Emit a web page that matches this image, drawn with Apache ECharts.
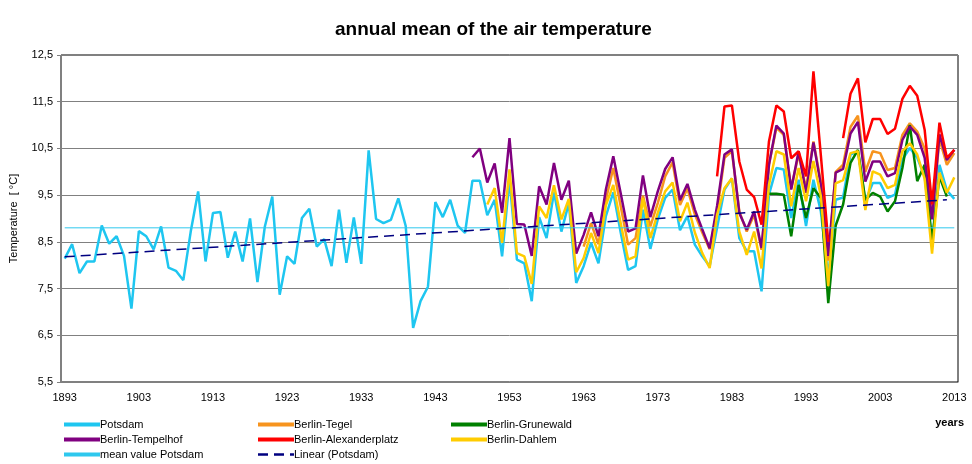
<!DOCTYPE html>
<html>
<head>
<meta charset="utf-8">
<title>annual mean of the air temperature</title>
<script src="https://cdn.jsdelivr.net/npm/echarts@6/dist/echarts.min.js"></script>
<style>
  html, body { margin: 0; padding: 0; background: #fff; }
  #main { width: 972px; height: 464px; }
</style>
</head>
<body>
<div id="main"></div>
<script>
// years on the category axis
var firstYear = 1893;
var lastYear = 2013;
var years = [];
for (var y = firstYear; y <= lastYear; y++) years.push(String(y));

// Potsdam 1893-2013
var potsdam = [
  8.14, 8.45, 7.83, 8.08, 8.08, 8.85, 8.46, 8.62, 8.20, 7.07,
  8.73, 8.62, 8.34, 8.83, 7.95, 7.88, 7.68, 8.72, 9.58, 8.08,
  9.12, 9.14, 8.16, 8.72, 8.08, 9.00, 7.64, 8.83, 9.47, 7.37,
  8.19, 8.03, 9.01, 9.21, 8.40, 8.56, 7.98, 9.19, 8.05, 9.02,
  8.03, 10.46, 8.99, 8.90, 8.97, 9.43, 8.84, 6.66, 7.23, 7.54,
  9.35, 9.03, 9.40, 8.85, 8.69, 9.81, 9.81, 9.07, 9.40, 8.19,
  9.83, 8.12, 8.04, 7.23, 9.03, 8.58, 9.56, 8.72, 9.33, 7.62,
  7.98, 8.48, 8.04, 9.05, 9.56, 8.70, 7.90, 7.98, 9.19, 8.35,
  8.98, 9.44, 9.62, 8.75, 9.05, 8.44, 8.19, 7.98, 8.80, 9.62,
  9.86, 8.58, 8.30, 8.30, 7.44, 9.51, 10.08, 10.05, 9.01, 9.83,
  8.84, 9.83, 9.15, 7.75, 9.40, 9.45, 10.37, 10.44, 9.37, 9.76,
  9.76, 9.44, 9.51, 10.26, 10.51, 10.30, 9.90, 8.50, 10.15, 9.60,
  9.42
];

// Berlin-Tegel 1963-2013
var tegelStart = 1963;
var tegel = [
  8.40, 8.90, 8.45, 9.40, 10.08, 9.26, 8.44, 8.58, 9.49, 8.83,
  9.33, 9.90, 10.20, 9.29, 9.64, 9.09, 8.70, 8.34, 9.15, 10.30,
  10.44, 9.15, 8.72, 9.08, 8.33, 10.15, 10.94, 10.79, 9.65, 10.37,
  9.65, 10.65, 9.79, 8.10, 10.00, 10.15, 10.96, 11.20, 10.00, 10.44,
  10.40, 10.04, 10.08, 10.79, 11.04, 10.86, 10.50, 9.00, 10.70, 10.15,
  10.40
];

// Berlin-Grunewald 1988-2012
var grunewaldStart = 1988;
var grunewald = [
  9.53, 9.53, 9.51, 8.62, 9.72, 9.01, 9.65, 9.44, 7.19, 8.85,
  9.30, 10.19, 10.47, 9.40, 9.55, 9.47, 9.15, 9.37, 10.08, 11.00,
  9.80, 10.15, 8.50, 9.90, 9.47
];

// Berlin-Tempelhof 1948-2013
var tempelhofStart = 1948;
var tempelhof = [
  10.31, 10.50, 9.77, 10.18, 9.12, 10.72, 8.88, 8.87, 8.20, 9.69,
  9.30, 10.19, 9.40, 9.81, 8.25, 8.65, 9.13, 8.62, 9.62, 10.33,
  9.54, 8.72, 8.79, 9.92, 9.03, 9.58, 10.06, 10.31, 9.39, 9.74,
  9.19, 8.77, 8.36, 9.27, 10.37, 10.48, 9.12, 8.76, 9.15, 8.37,
  10.15, 10.99, 10.82, 9.62, 10.44, 9.55, 10.63, 9.72, 8.20, 9.98,
  10.06, 10.82, 11.07, 9.79, 10.22, 10.22, 9.90, 9.97, 10.68, 10.97,
  10.79, 10.30, 8.98, 10.80, 10.25, 10.47
];

// Berlin-Alexanderplatz 1981-2013 (1997 missing)
var alexStart = 1981;
var alexanderplatz = [
  9.90, 11.40, 11.42, 10.22, 9.62, 9.46, 8.87, 10.65, 11.42, 11.29,
  10.29, 10.44, 9.90, 12.15, 10.35, 8.50, null, 10.72, 11.67, 12.00,
  10.63, 11.13, 11.13, 10.81, 10.92, 11.56, 11.84, 11.63, 10.90, 9.30,
  11.05, 10.30, 10.47
];

// Berlin-Dahlem 1950-2013
var dahlemStart = 1950;
var dahlem = [
  9.30, 9.65, 8.48, 10.05, 8.26, 8.19, 7.60, 9.26, 9.01, 9.71,
  8.98, 9.42, 7.85, 8.15, 8.69, 8.26, 9.28, 9.72, 8.90, 8.12,
  8.19, 9.44, 8.58, 9.12, 9.58, 9.77, 8.94, 9.34, 8.70, 8.26,
  7.94, 9.08, 9.65, 9.86, 8.72, 8.22, 8.72, 7.93, 9.72, 10.44,
  10.37, 9.26, 10.08, 9.37, 10.23, 9.48, 7.55, 9.75, 9.82, 10.40,
  10.44, 9.18, 10.01, 9.94, 9.65, 9.72, 10.44, 10.61, 10.37, 9.85,
  8.25, 9.98, 9.55, 9.88
];

// mean value Potsdam and linear trend end points
var meanPotsdam = 8.8;
var trendYears = ['1893', '2012'];
var trendValues = [8.18, 9.40];

var yTicks = [5.5, 12.5];

function pad(start, values) {
  var out = [];
  for (var i = firstYear; i < start; i++) out.push(null);
  return out.concat(values);
}

var FONT = 'Liberation Sans';

function lineSeries(name, color, data) {
  return {
    name: name,
    type: 'line',
    data: data,
    symbol: 'none',
    connectNulls: false,
    lineStyle: { color: color, width: 2.5 },
    itemStyle: { color: color }
  };
}

// one legend per column, like the three columns of the original
function legendCol(left, names) {
  return {
    orient: 'vertical', left: left, top: 419, padding: 0,
    itemGap: 4, itemWidth: 36, itemHeight: 12,
    itemStyle: { opacity: 0 },
    lineStyle: { width: 4 },
    textStyle: { fontSize: 11, color: '#000', padding: [0, 0, 0, -5] },
    data: names
  };
}

var myChart = echarts.init(document.getElementById('main'));
myChart.setOption({
  animation: false,
  textStyle: { fontFamily: FONT },
  title: {
    text: 'annual mean of the air temperature',
    left: 330,
    top: 15,
    textStyle: { fontFamily: FONT, fontSize: 19, fontWeight: 'bold', color: '#000' }
  },
  grid: {
    left: 58, right: 14, top: 55, bottom: 82,
    show: true, borderColor: '#000', borderWidth: 1
  },
  xAxis: {
    type: 'category',
    data: years,
    boundaryGap: true,
    axisLine: { lineStyle: { color: '#808080' } },
    axisTick: { interval: 0, length: 4, lineStyle: { color: '#808080' } },
    axisLabel: { interval: 9, color: '#000', fontSize: 11, margin: 10 },
    splitLine: { show: false }
  },
  yAxis: {
    type: 'value',
    min: yTicks[0],
    max: yTicks[1],
    interval: 1,
    name: 'Temperature  [ °C]',
    nameLocation: 'middle',
    nameRotate: 90,
    nameGap: 42,
    nameTextStyle: { fontSize: 11, color: '#000' },
    axisLine: { show: true, lineStyle: { color: '#808080' } },
    axisTick: { show: true, length: 4, lineStyle: { color: '#808080' } },
    axisLabel: {
      color: '#000', fontSize: 11, margin: 8,
      formatter: function (v) { return v.toFixed(1).replace('.', ','); }
    },
    splitLine: { lineStyle: { color: '#808080', width: 1 } }
  },
  legend: [
    legendCol(62, ['Potsdam', 'Berlin-Tempelhof', 'mean value Potsdam']),
    legendCol(256, ['Berlin-Tegel', 'Berlin-Alexanderplatz',
      { name: 'Linear (Potsdam)', lineStyle: { width: 2.5 } }]),
    legendCol(449, ['Berlin-Grunewald', 'Berlin-Dahlem'])
  ],
  graphic: [{
    type: 'text', right: 8, top: 417,
    style: { text: 'years', font: 'bold 11px "Liberation Sans"', fill: '#000' }
  }],
  series: [
    lineSeries('Potsdam', '#1ec6f0', potsdam),
    lineSeries('Berlin-Tegel', '#f7941e', pad(tegelStart, tegel)),
    lineSeries('Berlin-Grunewald', '#008000', pad(grunewaldStart, grunewald)),
    lineSeries('Berlin-Tempelhof', '#800080', pad(tempelhofStart, tempelhof)),
    lineSeries('Berlin-Alexanderplatz', '#ff0000', pad(alexStart, alexanderplatz)),
    lineSeries('Berlin-Dahlem', '#ffcc00', pad(dahlemStart, dahlem)),
    {
      name: 'mean value Potsdam',
      type: 'line',
      symbol: 'none',
      data: [[years[0], meanPotsdam], [years[years.length - 1], meanPotsdam]],
      lineStyle: { color: '#2ec8ee', width: 1 },
      itemStyle: { color: '#2ec8ee' }
    },
    {
      name: 'Linear (Potsdam)',
      type: 'line',
      symbol: 'none',
      data: [[trendYears[0], trendValues[0]], [trendYears[1], trendValues[1]]],
      lineStyle: { color: '#000080', width: 1.5, type: [10, 6] },
      itemStyle: { color: '#000080' }
    }
  ]
});
</script>
</body>
</html>
